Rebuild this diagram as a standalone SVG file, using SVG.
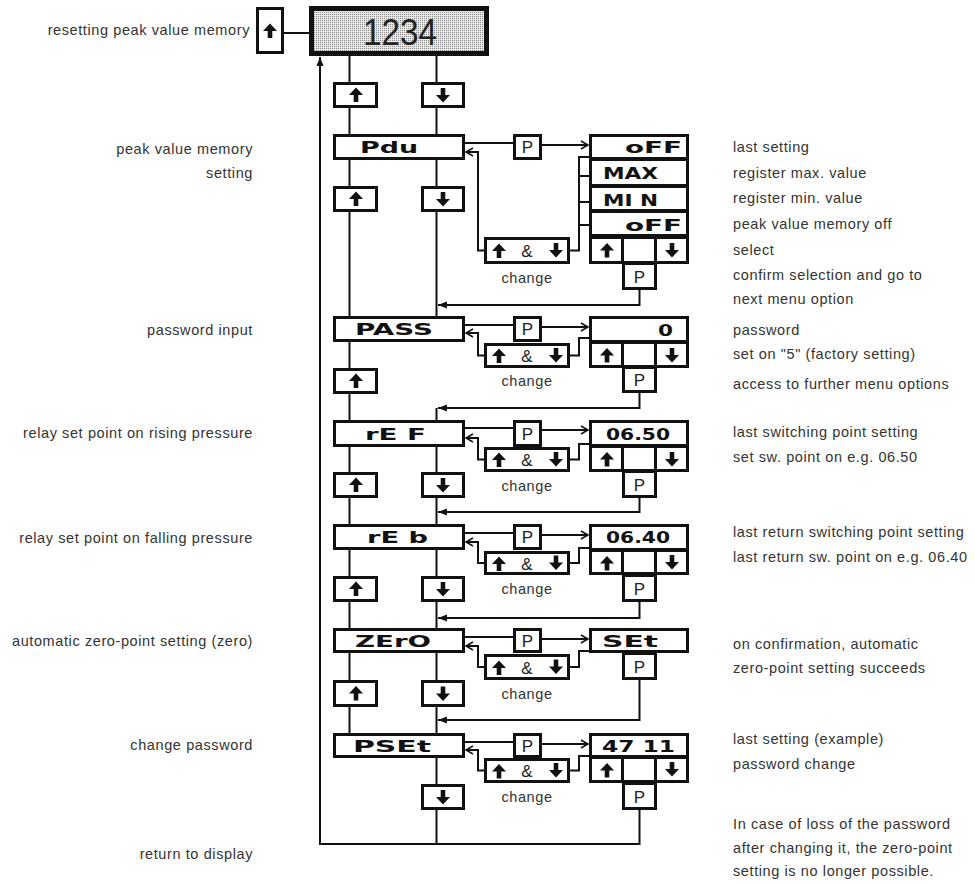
<svg xmlns="http://www.w3.org/2000/svg" width="975" height="885" viewBox="0 0 975 885">
<defs>
<pattern id="dots" width="2" height="2" patternUnits="userSpaceOnUse"><rect width="2" height="2" fill="#e8e8e8"/><rect width="1" height="1" fill="#8a8a8a"/></pattern>
<path id="ua" d="M0,-7.5 L7,0 L2.3,0 L2.3,7 L-2.3,7 L-2.3,0 L-7,0 Z" fill="#111"/>
<path id="da" d="M0,7.5 L7,0 L2.3,0 L2.3,-7 L-2.3,-7 L-2.3,0 L-7,0 Z" fill="#111"/>
<marker id="open" markerWidth="10" markerHeight="10" refX="8" refY="5" orient="auto" markerUnits="userSpaceOnUse"><path d="M1,1 L8,5 L1,9" fill="none" stroke="#111" stroke-width="1.5"/></marker>
<marker id="solid" markerWidth="10" markerHeight="8" refX="9" refY="4" orient="auto" markerUnits="userSpaceOnUse"><path d="M0,0.5 L9,4 L0,7.5 Z" fill="#111"/></marker>
</defs>
<style>
.b{fill:#fff;stroke:#111;stroke-width:3}
.c{fill:none;stroke:#111;stroke-width:2}
.t{font-family:"Liberation Sans",Arial,sans-serif;font-size:14.5px;letter-spacing:0.6px;fill:#333}
.l{text-anchor:end}
.d{font-family:"DejaVu Sans",sans-serif;font-weight:bold;font-size:16px;fill:#111}
.p{font-family:"Liberation Sans",Arial,sans-serif;font-size:17px;fill:#222;text-anchor:middle}
.ch{text-anchor:middle}
</style>

<g id="connectors">
<path class="c" d="M284,33 H309"/>
<path class="c" d="M639.5,810 V844 H320 V57" marker-end="url(#solid)"/>
<path class="c" d="M349.5,56 V733"/>
<path class="c" d="M436.5,56 V316 M436.5,408 V844"/>
<!-- Pdu -->
<path class="c" d="M465,143 H513"/>
<path class="c" d="M542,145 H588" marker-end="url(#open)"/>
<path class="c" d="M484,250.5 H478 V152 H466" marker-end="url(#open)"/>
<path class="c" d="M570,250.5 H579 V157 H589 M579,176 H589 M579,202 H589 M579,225 H589"/>
<path class="c" d="M639.5,290 V305 H438" marker-end="url(#solid)"/>
<!-- PASS -->
<path class="c" d="M465,325 H513"/>
<path class="c" d="M542,327 H588" marker-end="url(#open)"/>
<path class="c" d="M484,355.5 H478 V333 H466" marker-end="url(#open)"/>
<path class="c" d="M570,355.5 H579 V338 H589"/>
<path class="c" d="M639.5,393 V408 H438" marker-end="url(#solid)"/>
<!-- rEF -->
<path class="c" d="M465,428 H513"/>
<path class="c" d="M542,430 H588" marker-end="url(#open)"/>
<path class="c" d="M484,459.5 H478 V438 H466" marker-end="url(#open)"/>
<path class="c" d="M570,459.5 H579 V444 H589"/>
<path class="c" d="M639.5,498 V512 H438" marker-end="url(#solid)"/>
<!-- rEb -->
<path class="c" d="M465,533 H513"/>
<path class="c" d="M542,535 H588" marker-end="url(#open)"/>
<path class="c" d="M484,563 H478 V542 H466" marker-end="url(#open)"/>
<path class="c" d="M570,563 H579 V548 H589"/>
<path class="c" d="M639.5,602 V618 H438" marker-end="url(#solid)"/>
<!-- ZErO -->
<path class="c" d="M465,637 H513"/>
<path class="c" d="M542,639 H588" marker-end="url(#open)"/>
<path class="c" d="M484,667 H478 V646 H466" marker-end="url(#open)"/>
<path class="c" d="M570,667 H579 V651 H589"/>
<path class="c" d="M639.5,680 V720 H438" marker-end="url(#solid)"/>
<!-- PSEt -->
<path class="c" d="M465,742 H513"/>
<path class="c" d="M542,744 H588" marker-end="url(#open)"/>
<path class="c" d="M484,770.5 H478 V750 H466" marker-end="url(#open)"/>
<path class="c" d="M570,770.5 H579 V756 H589"/>
</g>

<g id="display">
<rect x="311.5" y="8.5" width="175" height="45" fill="url(#dots)" stroke="#111" stroke-width="5"/>
<text x="400" y="45" font-family="'Liberation Sans',Arial,sans-serif" font-size="37" fill="#222" text-anchor="middle" textLength="74" lengthAdjust="spacingAndGlyphs">1234</text>
</g>
<g id="reset-key"><rect class="b" x="257.5" y="8.5" width="25" height="44"/><use href="#ua" x="270" y="31"/></g>

<g id="up-keys">
<rect class="b" x="334.5" y="83.5" width="42" height="23"/><use href="#ua" x="356" y="95"/>
<rect class="b" x="334.5" y="187.5" width="42" height="23"/><use href="#ua" x="356" y="199"/>
<rect class="b" x="334.5" y="369.5" width="42" height="23"/><use href="#ua" x="356" y="381"/>
<rect class="b" x="334.5" y="473.5" width="42" height="23"/><use href="#ua" x="356" y="485"/>
<rect class="b" x="334.5" y="577.5" width="42" height="23"/><use href="#ua" x="356" y="589"/>
<rect class="b" x="334.5" y="681.5" width="42" height="24"/><use href="#ua" x="356" y="693.5"/>
</g>
<g id="down-keys">
<rect class="b" x="422.5" y="83.5" width="41" height="23"/><use href="#da" x="443" y="95"/>
<rect class="b" x="422.5" y="187.5" width="41" height="23"/><use href="#da" x="443" y="199"/>
<rect class="b" x="422.5" y="473.5" width="41" height="23"/><use href="#da" x="443" y="485"/>
<rect class="b" x="422.5" y="577.5" width="41" height="23"/><use href="#da" x="443" y="589"/>
<rect class="b" x="422.5" y="681.5" width="41" height="24"/><use href="#da" x="443" y="693.5"/>
<rect class="b" x="422.5" y="785.5" width="41" height="23"/><use href="#da" x="443" y="797"/>
</g>

<g id="menu-Pdu"><rect class="b" x="334.5" y="135.5" width="129" height="23"/><text class="d" x="360" y="153" textLength="58" lengthAdjust="spacingAndGlyphs">Pdu</text></g>
<g id="menu-PASS"><rect class="b" x="334.5" y="317.5" width="129" height="23"/><text class="d" x="355" y="335" textLength="78" lengthAdjust="spacingAndGlyphs">PASS</text></g>
<g id="menu-rEF"><rect class="b" x="334.5" y="421.5" width="129" height="24"/><text class="d" x="365" y="439.5" textLength="61" lengthAdjust="spacingAndGlyphs">rE F</text></g>
<g id="menu-rEb"><rect class="b" x="334.5" y="525.5" width="129" height="23"/><text class="d" x="367" y="543" textLength="61" lengthAdjust="spacingAndGlyphs">rE b</text></g>
<g id="menu-ZErO"><rect class="b" x="334.5" y="629.5" width="129" height="22"/><text class="d" x="355" y="646.5" textLength="76" lengthAdjust="spacingAndGlyphs">ZErO</text></g>
<g id="menu-PSEt"><rect class="b" x="334.5" y="734.5" width="129" height="22"/><text class="d" x="353" y="751.5" textLength="78" lengthAdjust="spacingAndGlyphs">PSEt</text></g>

<g id="p-keys">
<rect class="b" x="514.5" y="135.5" width="26" height="23"/><text class="p" x="527.5" y="153">P</text>
<rect class="b" x="514.5" y="317.5" width="26" height="23"/><text class="p" x="527.5" y="335">P</text>
<rect class="b" x="514.5" y="421.5" width="26" height="24"/><text class="p" x="527.5" y="439.5">P</text>
<rect class="b" x="514.5" y="525.5" width="26" height="23"/><text class="p" x="527.5" y="543">P</text>
<rect class="b" x="514.5" y="629.5" width="26" height="22"/><text class="p" x="527.5" y="646.5">P</text>
<rect class="b" x="514.5" y="734.5" width="26" height="22"/><text class="p" x="527.5" y="751.5">P</text>
</g>

<g id="change-keys">
<rect class="b" x="485.5" y="238.5" width="83" height="24"/><use href="#ua" x="499" y="251"/><text class="p" x="527" y="257">&amp;</text><use href="#da" x="556" y="250"/>
<rect class="b" x="485.5" y="344.5" width="83" height="22"/><use href="#ua" x="499" y="356"/><text class="p" x="527" y="362">&amp;</text><use href="#da" x="556" y="355"/>
<rect class="b" x="485.5" y="448.5" width="83" height="22"/><use href="#ua" x="499" y="460"/><text class="p" x="527" y="466">&amp;</text><use href="#da" x="556" y="459"/>
<rect class="b" x="485.5" y="552.5" width="83" height="21"/><use href="#ua" x="499" y="564"/><text class="p" x="527" y="569.5">&amp;</text><use href="#da" x="556" y="562.5"/>
<rect class="b" x="485.5" y="655.5" width="83" height="23"/><use href="#ua" x="499" y="668"/><text class="p" x="527" y="673.5">&amp;</text><use href="#da" x="556" y="666.5"/>
<rect class="b" x="485.5" y="759.5" width="83" height="22"/><use href="#ua" x="499" y="771.5"/><text class="p" x="527" y="777">&amp;</text><use href="#da" x="556" y="770"/>
<text class="t ch" x="527" y="283">change</text>
<text class="t ch" x="527" y="386">change</text>
<text class="t ch" x="527" y="491">change</text>
<text class="t ch" x="527" y="594">change</text>
<text class="t ch" x="527" y="699">change</text>
<text class="t ch" x="527" y="802">change</text>
</g>

<g id="values-Pdu">
<rect class="b" x="590.5" y="135.5" width="97" height="23"/><text class="d" x="625" y="153" textLength="57" lengthAdjust="spacingAndGlyphs">oFF</text>
<rect class="b" x="590.5" y="159.5" width="97" height="26"/><text class="d" x="603" y="179" textLength="55" lengthAdjust="spacingAndGlyphs">MAX</text>
<rect class="b" x="590.5" y="186.5" width="97" height="24"/><text class="d" x="603" y="205.5" textLength="55" lengthAdjust="spacingAndGlyphs">MI N</text>
<rect class="b" x="590.5" y="211.5" width="97" height="24"/><text class="d" x="625" y="230.5" textLength="57" lengthAdjust="spacingAndGlyphs">oFF</text>
</g>
<g id="values-PASS"><rect class="b" x="590.5" y="317.5" width="97" height="24"/><text class="d" x="658" y="335.5" textLength="15" lengthAdjust="spacingAndGlyphs">0</text></g>
<g id="values-rEF"><rect class="b" x="590.5" y="421.5" width="97" height="24"/><text class="d" x="606" y="439.5" textLength="64" lengthAdjust="spacingAndGlyphs">06.50</text></g>
<g id="values-rEb"><rect class="b" x="590.5" y="525.5" width="97" height="24"/><text class="d" x="606" y="543" textLength="64" lengthAdjust="spacingAndGlyphs">06.40</text></g>
<g id="values-ZErO"><rect class="b" x="590.5" y="629.5" width="97" height="22"/><text class="d" x="602" y="646.5" textLength="56" lengthAdjust="spacingAndGlyphs">SEt</text></g>
<g id="values-PSEt"><rect class="b" x="590.5" y="734.5" width="97" height="22"/><text class="d" x="602" y="751.5" textLength="73" lengthAdjust="spacingAndGlyphs">47 11</text></g>

<g id="select-keys">
<rect class="b" x="590.5" y="237.5" width="33" height="25"/><use href="#ua" x="607" y="250.5"/>
<rect class="b" x="622.5" y="237.5" width="34" height="25"/>
<rect class="b" x="655.5" y="237.5" width="32" height="25"/><use href="#da" x="672" y="250"/>
<rect class="b" x="590.5" y="342.5" width="33" height="24"/><use href="#ua" x="607" y="355.5"/>
<rect class="b" x="622.5" y="342.5" width="34" height="24"/>
<rect class="b" x="655.5" y="342.5" width="32" height="24"/><use href="#da" x="672" y="355"/>
<rect class="b" x="590.5" y="446.5" width="33" height="24"/><use href="#ua" x="607" y="459.5"/>
<rect class="b" x="622.5" y="446.5" width="34" height="24"/>
<rect class="b" x="655.5" y="446.5" width="32" height="24"/><use href="#da" x="672" y="459"/>
<rect class="b" x="590.5" y="550.5" width="33" height="23"/><use href="#ua" x="607" y="563.5"/>
<rect class="b" x="622.5" y="550.5" width="34" height="23"/>
<rect class="b" x="655.5" y="550.5" width="32" height="23"/><use href="#da" x="672" y="562"/>
<rect class="b" x="590.5" y="757.5" width="33" height="24"/><use href="#ua" x="607" y="770.5"/>
<rect class="b" x="622.5" y="757.5" width="34" height="24"/>
<rect class="b" x="655.5" y="757.5" width="32" height="24"/><use href="#da" x="672" y="769"/>
</g>
<g id="confirm-keys">
<rect class="b" x="623.5" y="263.5" width="32" height="25"/><text class="p" x="639.5" y="283">P</text>
<rect class="b" x="623.5" y="367.5" width="32" height="24"/><text class="p" x="639.5" y="386">P</text>
<rect class="b" x="623.5" y="471.5" width="32" height="25"/><text class="p" x="639.5" y="491">P</text>
<rect class="b" x="623.5" y="575.5" width="32" height="25"/><text class="p" x="639.5" y="595">P</text>
<rect class="b" x="623.5" y="653.5" width="32" height="25"/><text class="p" x="639.5" y="673">P</text>
<rect class="b" x="623.5" y="783.5" width="32" height="25"/><text class="p" x="639.5" y="803">P</text>
</g>

<g id="left-labels">
<text class="t l" x="250" y="35">resetting peak value memory</text>
<text class="t l" x="253" y="154">peak value memory</text>
<text class="t l" x="253" y="178">setting</text>
<text class="t l" x="253" y="335">password input</text>
<text class="t l" x="253" y="438">relay set point on rising pressure</text>
<text class="t l" x="253" y="543">relay set point on falling pressure</text>
<text class="t l" x="253" y="646">automatic zero-point setting (zero)</text>
<text class="t l" x="253" y="750">change password</text>
<text class="t l" x="253" y="859">return to display</text>
</g>
<g id="right-labels">
<text class="t" x="733" y="152">last setting</text>
<text class="t" x="733" y="178">register max. value</text>
<text class="t" x="733" y="203">register min. value</text>
<text class="t" x="733" y="229">peak value memory off</text>
<text class="t" x="733" y="255">select</text>
<text class="t" x="733" y="280">confirm selection and go to</text>
<text class="t" x="733" y="304">next menu option</text>
<text class="t" x="733" y="335">password</text>
<text class="t" x="733" y="359">set on "5" (factory setting)</text>
<text class="t" x="733" y="389">access to further menu options</text>
<text class="t" x="733" y="437">last switching point setting</text>
<text class="t" x="733" y="462">set sw. point on e.g. 06.50</text>
<text class="t" x="733" y="537">last return switching point setting</text>
<text class="t" x="733" y="562">last return sw. point on e.g. 06.40</text>
<text class="t" x="733" y="649">on confirmation, automatic</text>
<text class="t" x="733" y="673">zero-point setting succeeds</text>
<text class="t" x="733" y="744">last setting (example)</text>
<text class="t" x="733" y="769">password change</text>
<text class="t" x="733" y="829">In case of loss of the password</text>
<text class="t" x="733" y="853">after changing it, the zero-point</text>
<text class="t" x="733" y="876">setting is no longer possible.</text>
</g>
</svg>
